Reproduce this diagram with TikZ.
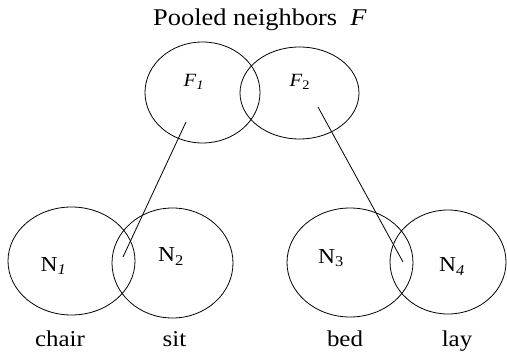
\documentclass[tikz,border=0pt]{standalone}
\usepackage{fontspec}
\setmainfont{Liberation Serif}
\usetikzlibrary{shapes.geometric, positioning}

\begin{document}
\begin{tikzpicture}[x=0.75pt, y=-0.75pt,
    blob/.style={draw, ellipse, line width=0.6pt, inner sep=0pt},
    word/.style={anchor=base, inner sep=0pt, xscale=1.1, font=\fontsize{17}{19}\selectfont},
    nlab/.style={anchor=base, inner sep=0pt, xscale=1.1, font=\fontsize{16}{18}\selectfont},
    flab/.style={anchor=base, inner sep=0pt, xscale=1.1, font=\fontsize{14}{16}\selectfont}]
    \useasboundingbox (0,0) rectangle (507,356);
    % Title
    \node[word, font=\fontsize{18}{20}\selectfont] (title) at (260,26) {Pooled neighbors~~\textit{F}};
    % Pooled neighbors
    \node[blob, minimum width=86.25pt, minimum height=75.75pt] (F1) at (202.5,92.5) {};
    \node[blob, minimum width=89.25pt, minimum height=69pt] (F2) at (299.5,93) {};
    \node[flab] (f1) at (194,87) {\textit{F}\textsubscript{\textit{1}}};
    \node[flab] (f2) at (300,87) {\textit{F}\textsubscript{2}};
    % Neighbors
    \node[blob, minimum width=95.25pt, minimum height=81pt] (N1) at (71.5,261) {};
    \node[blob, minimum width=90.75pt, minimum height=82.5pt] (N2) at (172.5,263) {};
    \node[blob, minimum width=94.5pt, minimum height=81.75pt] (N3) at (350,262.5) {};
    \node[blob, minimum width=87pt, minimum height=78pt] (N4) at (448,262) {};
    \node[nlab] (n1) at (53.5,271) {N\textsubscript{\textit{1}}};
    \node[nlab] (n2) at (171,262) {N\textsubscript{2}};
    \node[nlab] (n3) at (331,263) {N\textsubscript{3}};
    \node[nlab] (n4) at (452,272) {N\textsubscript{\textit{4}}};
    % Words
    \node[word] (chair) at (60,346) {chair};
    \node[word] (sit) at (174.5,346) {sit};
    \node[word] (bed) at (345,346) {bed};
    \node[word] (lay) at (457,346) {lay};
    % Links
    \coordinate (f1in) at (186,122);
    \coordinate (n12) at (123,257);
    \coordinate (f2in) at (318,107);
    \coordinate (n34) at (403,262);
    \draw[line width=0.6pt] (f1in) -- (n12);
    \draw[line width=0.6pt] (f2in) -- (n34);
\end{tikzpicture}
\end{document}
